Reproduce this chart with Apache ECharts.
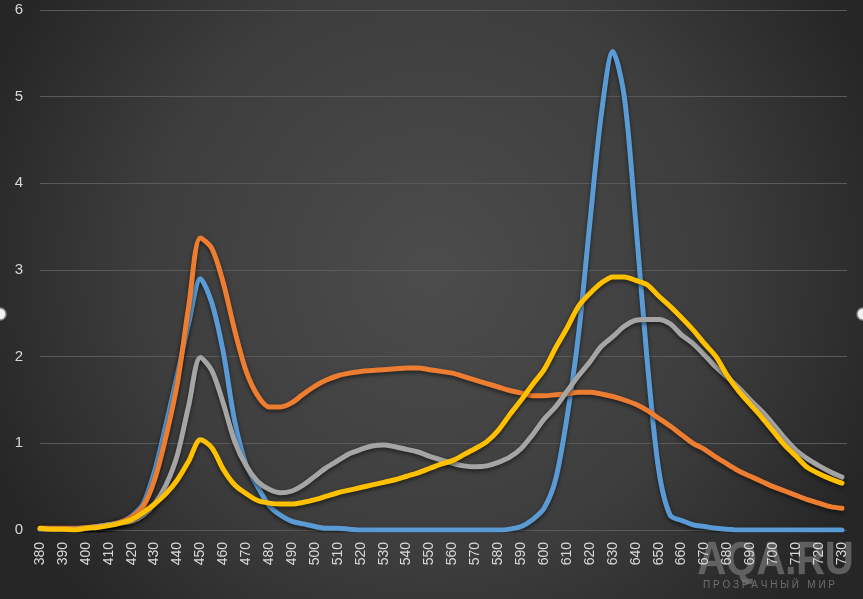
<!DOCTYPE html>
<html>
<head>
<meta charset="utf-8">
<script src="https://cdn.jsdelivr.net/npm/echarts@6/dist/echarts.min.js"></script>
<style>
html,body{margin:0;padding:0;background:#333;}
#chart{width:863px;height:599px;}
</style>
</head>
<body>
<div id="chart"></div>
<script>
// Wavelengths (nm)
var wavelengths = [380,385,390,395,400,405,410,415,420,425,430,435,440,445,450,455,460,465,470,475,480,485,490,495,500,505,510,515,520,525,530,535,540,545,550,555,560,565,570,575,580,585,590,595,600,605,610,615,620,625,630,635,640,645,650,655,660,665,670,675,680,685,690,695,700,705,710,715,720,725,730];

var blueSeries = [0,0,0,0,0.01,0.03,0.05,0.09,0.16,0.3,0.68,1.22,1.8,2.4,2.9,2.62,2.05,1.25,0.75,0.5,0.28,0.17,0.1,0.07,0.04,0.02,0.02,0.01,0,0,0,0,0,0,0,0,0,0,0,0,0,0.01,0.04,0.12,0.25,0.58,1.3,2.25,3.55,4.8,5.52,5.0,3.55,1.95,0.7,0.17,0.11,0.06,0.04,0.02,0.01,0,0,0,0,0,0,0,0,0,0];

var orangeSeries = [0.02,0.02,0.02,0.02,0.03,0.04,0.06,0.09,0.15,0.27,0.58,1.08,1.7,2.6,3.37,3.25,2.85,2.3,1.83,1.55,1.42,1.42,1.47,1.57,1.66,1.73,1.78,1.81,1.83,1.84,1.85,1.86,1.87,1.87,1.85,1.83,1.81,1.77,1.73,1.69,1.65,1.61,1.58,1.55,1.55,1.56,1.57,1.59,1.59,1.57,1.54,1.5,1.45,1.38,1.29,1.2,1.1,1.0,0.93,0.84,0.76,0.68,0.62,0.56,0.5,0.45,0.4,0.35,0.31,0.27,0.25];

var graySeries = [0.01,0.01,0.01,0.01,0.02,0.04,0.06,0.08,0.1,0.17,0.3,0.52,0.87,1.45,1.99,1.84,1.46,1.02,0.74,0.56,0.47,0.43,0.45,0.52,0.62,0.72,0.8,0.88,0.93,0.97,0.98,0.96,0.93,0.9,0.85,0.81,0.77,0.74,0.73,0.74,0.78,0.84,0.94,1.1,1.28,1.42,1.6,1.78,1.94,2.12,2.23,2.35,2.42,2.43,2.43,2.38,2.25,2.15,2.02,1.88,1.76,1.64,1.5,1.37,1.22,1.06,0.92,0.82,0.74,0.67,0.61];

var yellowSeries = [0.02,0.01,0.01,0,0.02,0.03,0.05,0.08,0.12,0.2,0.3,0.42,0.58,0.8,1.04,0.95,0.7,0.52,0.42,0.34,0.31,0.3,0.3,0.32,0.35,0.39,0.43,0.46,0.49,0.52,0.55,0.58,0.62,0.66,0.71,0.76,0.8,0.87,0.94,1.02,1.15,1.33,1.5,1.68,1.85,2.1,2.33,2.58,2.73,2.85,2.92,2.92,2.88,2.83,2.7,2.58,2.45,2.31,2.15,2.0,1.78,1.6,1.45,1.3,1.14,0.98,0.85,0.72,0.65,0.59,0.54];

var yTicks = [0,1,2,3,4,5,6];
var xTickStep = 10;

function pairs(vals){ return wavelengths.map(function(w,i){ return [w, vals[i]]; }); }

var seriesDefs = [
  {name:'blue', color:'#5b9bd5', data:blueSeries},
  {name:'orange', color:'#ed7d31', data:orangeSeries},
  {name:'gray', color:'#a5a5a5', data:graySeries},
  {name:'yellow', color:'#ffc000', data:yellowSeries}
];

var chart = echarts.init(document.getElementById('chart'), null, {renderer:'canvas'});
chart.setOption({
  animation:false,
  backgroundColor:{type:'radial', x:0.5, y:0.45, r:0.8,
    colorStops:[{offset:0,color:'#4c4c4c'},{offset:0.6,color:'#3d3d3d'},{offset:1,color:'#262626'}]},
  grid:{left:40, right:16, top:10, bottom:69},
  xAxis:{
    type:'value', min:wavelengths[0], max:732.2, interval:xTickStep,
    axisLine:{show:false}, axisTick:{show:false}, splitLine:{show:false},
    axisLabel:{rotate:90, color:'#d9d9d9', fontSize:14, fontFamily:'Liberation Sans', margin:12,
      showMaxLabel:false,
      formatter:function(v){ return (v % xTickStep === 0 && v <= wavelengths[wavelengths.length-1]) ? String(v) : ''; }}
  },
  yAxis:{
    type:'value', min:yTicks[0], max:yTicks[yTicks.length-1], interval:1,
    axisLine:{show:false}, axisTick:{show:false},
    splitLine:{lineStyle:{color:'#5a5a5a', width:1}},
    axisLabel:{color:'#d9d9d9', fontSize:15, fontFamily:'Liberation Sans', margin:17}
  },
  series:seriesDefs.map(function(s){
    return {
      name:s.name, type:'line', data:pairs(s.data), showSymbol:false, smooth:0.3,
      lineStyle:{color:s.color, width:5, shadowColor:'rgba(0,0,0,0.55)', shadowBlur:4, shadowOffsetY:2, cap:'round', join:'round'},
      itemStyle:{color:s.color}
    };
  }),
  graphic:[
    {type:'circle', shape:{cx:0, cy:314, r:6}, style:{fill:'#f2f2f2', stroke:'#8a8a8a', lineWidth:1.5}},
    {type:'circle', shape:{cx:863, cy:314, r:6}, style:{fill:'#f2f2f2', stroke:'#8a8a8a', lineWidth:1.5}},
    {type:'text', left:697, top:538, scaleX:0.86, style:{text:'AQA.RU', fontSize:46, fontWeight:'bold', fontFamily:'Liberation Sans', fill:'rgba(140,140,140,0.55)', stroke:'rgba(70,70,70,0.6)', lineWidth:1}},
    {type:'text', left:703, top:580, style:{text:'П Р О З Р А Ч Н Ы Й   М И Р', fontSize:10, fontFamily:'Liberation Sans', fill:'rgba(140,140,140,0.7)'}}
  ]
});
</script>
</body>
</html>
